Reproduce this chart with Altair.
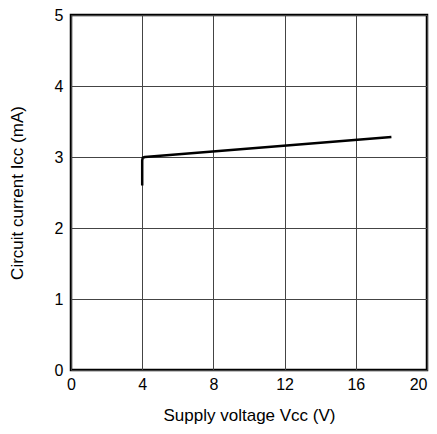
import altair as alt
import pandas as pd

vcc = [4.0, 4.0, 4.03, 4.15, 18.0]
icc = [2.6, 2.95, 2.99, 3.0, 3.28]
x_ticks = [0, 4, 8, 12, 16, 20]
y_ticks = [0, 1, 2, 3, 4, 5]

df = pd.DataFrame({"vcc": vcc, "icc": icc, "i": list(range(len(vcc)))})

FONT = "Liberation Sans"

chart = alt.Chart(df).mark_line(color="black", strokeWidth=2.5, strokeJoin="round").encode(
    x=alt.X("vcc:Q", scale=alt.Scale(domain=[0, 20], nice=False),
            axis=alt.Axis(values=x_ticks, title="Supply voltage Vcc (V)", ticks=False, domain=False,
                          labelPadding=6, titlePadding=15, labelFontSize=16, titleFontSize=17,
                          labelFont=FONT, titleFont=FONT, labelColor="black", titleColor="black",
                          titleFontWeight="normal", gridColor="#444", gridWidth=1, gridOpacity=1,
                          labelFlush=False,
                          labelAlign=alt.ExprRef(expr="datum.value == 20 ? 'right' : 'center'"))),
    y=alt.Y("icc:Q", scale=alt.Scale(domain=[0, 5], nice=False),
            axis=alt.Axis(values=y_ticks, title="Circuit current Icc (mA)", ticks=False, domain=False,
                          labelPadding=8, titlePadding=28, labelFontSize=16, titleFontSize=17,
                          labelFont=FONT, titleFont=FONT, labelColor="black", titleColor="black",
                          titleFontWeight="normal", gridColor="#444", gridWidth=1, gridOpacity=1,
                          labelFlush=False)),
    order="i:Q",
).properties(
    width=356, height=355,
    autosize=alt.AutoSizeParams(type="none"),
    padding={"left": 63, "top": 7, "right": 2, "bottom": 56},
).configure_view(stroke="black", strokeWidth=2.5)

chart.save("out.html", embed_options={"renderer": "svg", "actions": False})
